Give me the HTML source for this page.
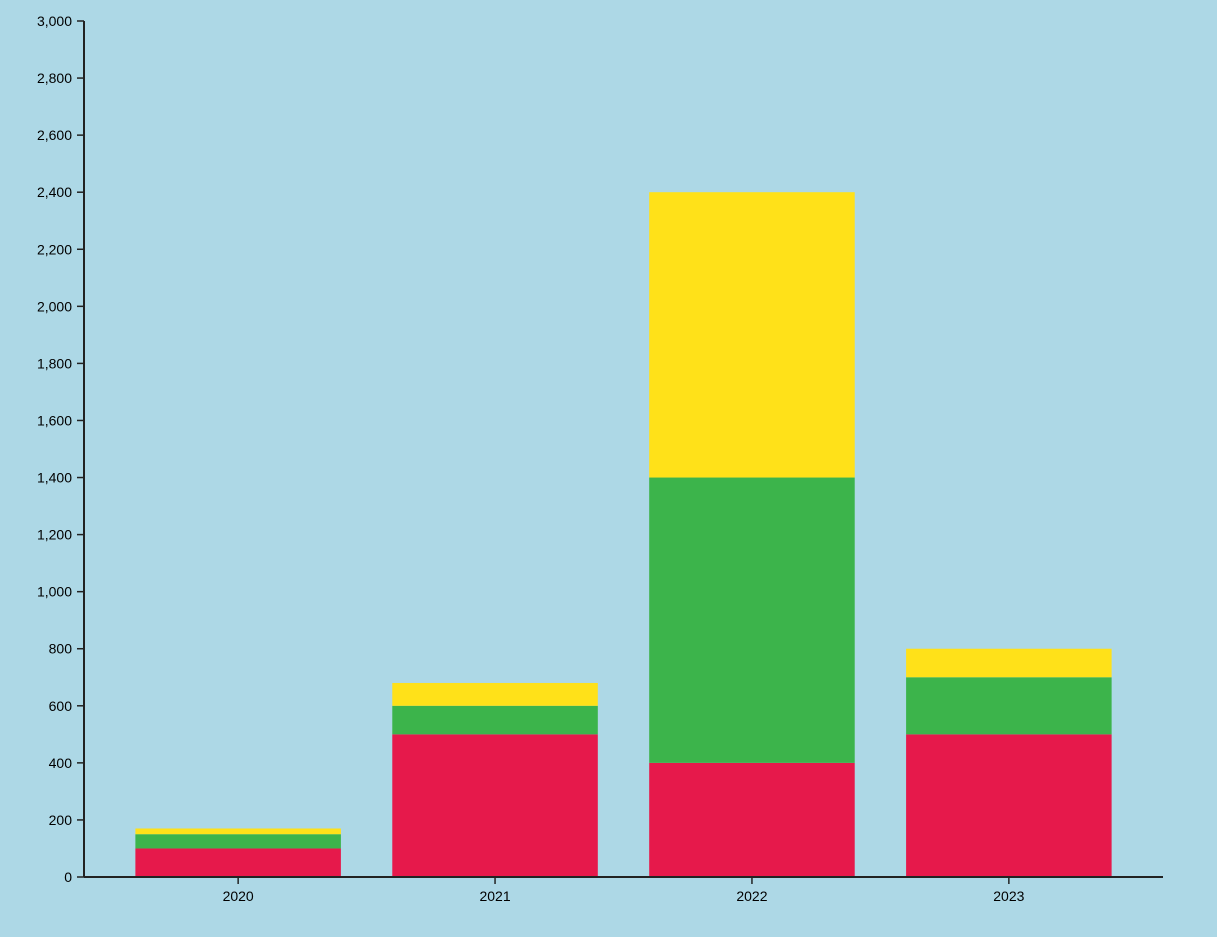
<!DOCTYPE html>
<html><head><meta charset="utf-8"><style>
html,body{margin:0;padding:0;background:#add8e6;}
svg{display:block;}
text{font-family:"Liberation Sans",Arial,sans-serif;font-size:14px;fill:#000;}
</style></head><body>
<svg id="chart" width="1217" height="937"></svg>
<script>
const categories = ["2020","2021","2022","2023"];
const seriesRed = [100,500,400,500];
const seriesGreen = [50,100,1000,200];
const seriesYellow = [20,80,1000,100];
const yTicks = [0,200,400,600,800,1000,1200,1400,1600,1800,2000,2200,2400,2600,2800,3000];

const NS="http://www.w3.org/2000/svg";
const svg=document.getElementById('chart');
const x0=84,x1=1163,yBase=877,yTop=21,yMax=3000;
function y(v){return yBase-(v/yMax)*(yBase-yTop);}
const step=(x1-x0)/(categories.length+0.2);
const bw=step*0.8;
function bx(i){return x0+step*0.2+i*step;}
function mk(tag,attrs){const e=document.createElementNS(NS,tag);for(const k in attrs)e.setAttribute(k,attrs[k]);svg.appendChild(e);return e;}

const series=[{name:'red',vals:seriesRed,color:'#e6194b'},{name:'green',vals:seriesGreen,color:'#3cb44b'},{name:'yellow',vals:seriesYellow,color:'#ffe119'}];
categories.forEach((c,i)=>{
  let acc=0;
  series.forEach(s=>{
    const v=s.vals[i];
    const r=mk('rect',{x:bx(i),y:y(acc+v),width:bw,height:y(acc)-y(acc+v),fill:s.color});
    
    
    acc+=v;
  });
});

// y axis
const ya=mk('line',{x1:x0,y1:yTop,x2:x0,y2:yBase,stroke:'#222','stroke-width':2});


yTicks.forEach(t=>{
  const tl=mk('line',{x1:x0-7,y1:y(t),x2:x0,y2:y(t),stroke:'#222','stroke-width':1.5});
  
  
  const tx=mk('text',{x:x0-12,y:y(t)+5,'text-anchor':'end'});
  tx.textContent=t.toLocaleString('en-US');
  
  
});
// x axis
const xa=mk('line',{x1:x0,y1:yBase,x2:x1,y2:yBase,stroke:'#222','stroke-width':2});


categories.forEach((c,i)=>{
  const cx=bx(i)+bw/2;
  const tl=mk('line',{x1:cx,y1:yBase,x2:cx,y2:yBase+7,stroke:'#222','stroke-width':1.5});
  
  
  const tx=mk('text',{x:cx,y:yBase+24,'text-anchor':'middle'});
  tx.textContent=c;
  
  
});
</script>
</body></html>
